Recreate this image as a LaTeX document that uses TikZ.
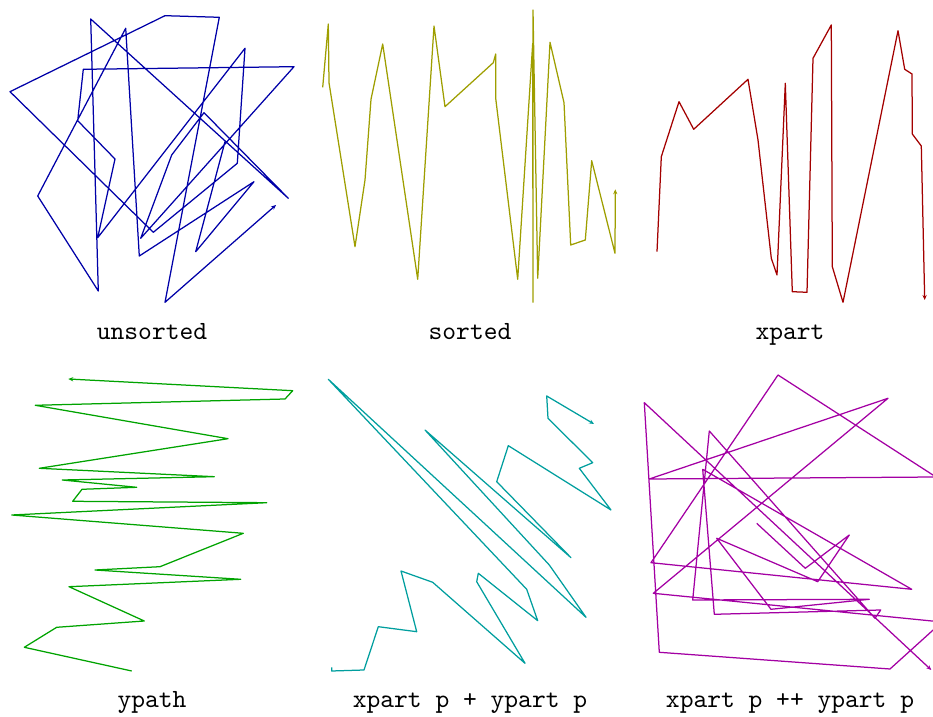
\documentclass[tikz,border=0pt]{standalone}
\usetikzlibrary{arrows.meta}

\definecolor{walkblue}{rgb}{0,0,0.66}
\definecolor{walkolive}{rgb}{0.62,0.62,0}
\definecolor{walkred}{rgb}{0.64,0,0}
\definecolor{walkgreen}{rgb}{0,0.64,0}
\definecolor{walkcyan}{rgb}{0,0.62,0.62}
\definecolor{walkmagenta}{rgb}{0.64,0,0.64}

\begin{document}
\begin{tikzpicture}[x=0.4pt,y=-0.4pt,
  walk/.style={line width=0.5pt,line join=round,-{Stealth[length=2pt,width=1.7pt]}},
  caption/.style={anchor=base,font=\fontsize{10.5}{12}\selectfont\ttfamily}]
\useasboundingbox (0,0) rectangle (933,717);

% unsorted
\draw[walk,walkblue] (225,141.7) -- (195.7,251.7) -- (254,181.7) -- (139.3,256) -- (125.7,28.3) -- (37.7,196) -- (98.3,291) -- (90.7,19) -- (288.3,198.3) -- (204,112.7) -- (171.7,155) -- (140.7,238.3) -- (294,66.7) -- (83.3,69.3) -- (77.7,120.7) -- (115,159) -- (97.7,237.7) -- (245,48.3) -- (237.3,163.3) -- (153.3,232.3) -- (10,91.7) -- (165,15.7) -- (219.3,17.3) -- (165,302.3) -- (276,205);

% sorted
\draw[walk,walkolive] (322.7,87.3) -- (328.3,24) -- (329,82.7) -- (355,246.7) -- (365,180) -- (371,99.3) -- (382.7,44) -- (417.7,279.3) -- (434,26) -- (445,106.7) -- (493.3,62.7) -- (495.7,54) -- (495.7,98.3) -- (517.7,279.3) -- (532.7,43.3) -- (533,302.3) -- (533,10) -- (537.7,278.3) -- (550,42.3) -- (564,102.7) -- (570.7,245) -- (585.3,240) -- (591.7,160.7) -- (615,253.3) -- (615.3,189.3);

% xpart
\draw[walk,walkred] (657,251.7) -- (661.3,156.7) -- (679,101.7) -- (693.7,129.3) -- (748,79.3) -- (758,140) -- (771.3,258.3) -- (777,275) -- (785.3,83.3) -- (792.3,291.7) -- (807,292.3) -- (813,58.3) -- (831.3,25) -- (832.3,266.7) -- (843,302.3) -- (898,30.7) -- (904.7,69.3) -- (912,74) -- (912.3,134) -- (921.3,146) -- (924.7,300);

% ypath
\draw[walk,walkgreen] (131.7,671) -- (24.3,647.3) -- (56.7,627.3) -- (144.3,621) -- (69,586.7) -- (240.7,579.3) -- (95,570) -- (160,566.7) -- (243.3,533.3) -- (11.7,515) -- (266.7,502.7) -- (72.7,501.3) -- (82,489.3) -- (136.7,487.3) -- (62.3,480) -- (214.3,476.7) -- (39.3,468.3) -- (228,438.7) -- (35.3,405.3) -- (285,399) -- (292.7,390.7) -- (68.3,379);

% xpart p + ypart p
\draw[walk,walkcyan] (331.7,667.3) -- (331.7,671) -- (364,670) -- (378.3,626.7) -- (416.7,631.7) -- (401,571) -- (432.7,582.3) -- (525,663.3) -- (476.7,581.7) -- (478.3,573.3) -- (537.7,620.7) -- (526.7,589.3) -- (328.3,379.3) -- (586,617.3) -- (549.3,565) -- (425,430) -- (571,557.7) -- (496.7,481.7) -- (508.3,445.7) -- (611,510) -- (579.3,468.3) -- (592.7,462.7) -- (548,418.3) -- (546.7,396) -- (594,424);

% xpart p ++ ypart p (runs off the right edge)
\begin{scope}
\clip (0,0) rectangle (933,717);
\draw[walk,walkmagenta] (756.7,523.3) -- (805.3,568.3) -- (849.3,535) -- (817.7,581.7) -- (716.7,538.3) -- (771,609.3) -- (869.3,599.3) -- (692.7,600) -- (709.3,431) -- (875,618.3) -- (880.7,610) -- (714.3,614.3) -- (702.7,469.3) -- (911.7,589.3) -- (651,562.7) -- (778,375) -- (936,477) -- (649.3,479) -- (888,398.3) -- (653.3,593.3) -- (942,622) -- (890,669) -- (659.3,652.3) -- (644.3,402.7) -- (931.3,670);
\end{scope}

\node[caption] (capUnsorted) at (152,340) {unsorted};
\node[caption] (capSorted) at (470,340) {sorted};
\node[caption] (capXpart) at (790,340) {xpart};
\node[caption] (capYpath) at (152,707.5) {ypath};
\node[caption] (capSum) at (470,707.5) {xpart p + ypart p};
\node[caption] (capPyth) at (790,707.5) {xpart p ++ ypart p};
\end{tikzpicture}
\end{document}
